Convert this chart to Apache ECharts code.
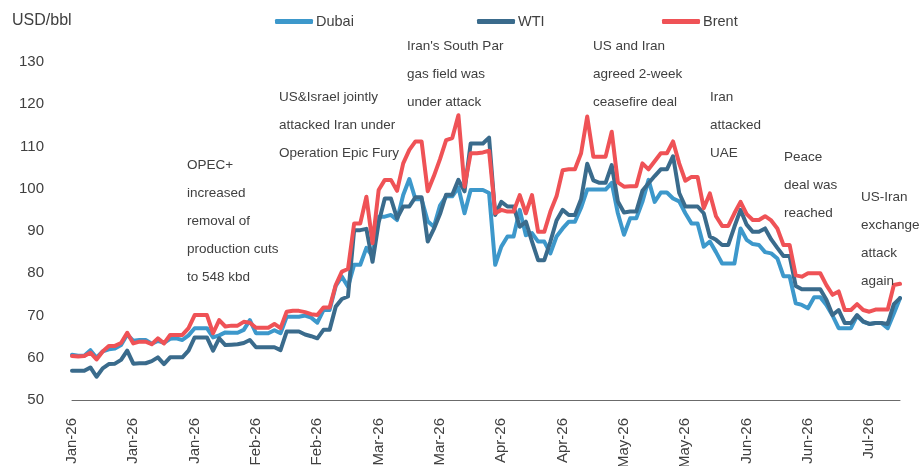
<!DOCTYPE html>
<html lang="en" style="height: 100%">
<head>
  <meta charset="utf-8">
</head>
<body style="height: 100%; margin: 0">
  <div id="container" style="width: 921px; height: 466px"></div>

  <script type="text/javascript" src="https://fastly.jsdelivr.net/npm/echarts@6/dist/echarts.min.js"></script>
  <script type="text/javascript">
    // daily prices, business days from 2 Jan 2026
    const dubai = [
      60.7, 60.5, 60.5, 61.8, 60.0, 61.5, 62.0, 62.2, 63.0, 65.5,
      64.0, 64.2, 64.2, 63.3, 64.0, 63.5, 64.5, 64.6, 64.2, 65.3,
      67.0, 67.0, 67.0, 64.8, 65.3, 66.0, 65.9, 65.9, 66.6, 68.9,
      65.8, 65.8, 65.8, 66.5, 65.8, 69.7, 69.7, 69.7, 70.0, 69.5,
      68.3, 71.3, 71.3, 77.0, 79.2, 76.8, 82.0, 82.0, 86.0, 84.0,
      93.4, 93.4, 93.8, 92.6, 98.5, 102.3, 97.5, 97.5, 92.3, 91.0,
      96.0, 98.2, 98.2, 100.3, 94.2, 99.7, 99.7, 99.7, 99.0, 82.0,
      86.3, 88.7, 88.7, 95.0, 89.0, 89.5, 87.5, 87.5, 84.7, 88.7,
      90.6, 92.2, 92.2, 95.5, 99.8, 99.8, 99.8, 99.8, 101.4, 94.2,
      89.1, 93.0, 93.0, 96.9, 102.1, 96.9, 99.1, 99.1, 97.7, 97.0,
      94.2, 91.8, 91.8, 86.3, 87.5, 85.0, 82.3, 82.3, 82.3, 90.6,
      87.9, 86.9, 86.7, 85.0, 84.7, 83.5, 79.3, 79.3, 72.9, 72.5,
      71.7, 74.3, 74.3, 72.5, 70.0, 67.0, 67.0, 67.0, 69.9, 68.5,
      68.0, 68.2, 68.2, 67.0, 70.5, 74.1
    ];
    const wti = [
      56.9, 56.9, 56.9, 57.7, 55.5, 57.5, 58.5, 58.6, 59.5, 61.7,
      58.6, 58.7, 58.7, 59.2, 60.1, 58.5, 60.1, 60.1, 60.1, 61.7,
      64.8, 64.8, 64.8, 61.7, 64.6, 63.0, 63.1, 63.2, 63.5, 64.2,
      62.5, 62.5, 62.5, 62.5, 61.8, 66.2, 66.2, 66.2, 65.5, 65.1,
      64.6, 66.6, 66.6, 72.1, 73.9, 74.5, 90.2, 90.2, 90.5, 82.7,
      92.0, 97.7, 97.7, 93.0, 95.8, 95.8, 98.0, 98.0, 87.5, 90.5,
      94.0, 98.6, 98.6, 102.1, 99.4, 110.7, 110.7, 110.7, 112.1, 93.8,
      96.9, 95.8, 95.8, 91.0, 92.2, 87.5, 83.1, 83.1, 87.5, 92.5,
      95.0, 93.8, 93.8, 97.5, 105.9, 102.0, 101.4, 101.4, 105.6, 97.0,
      94.4, 94.6, 94.6, 99.5, 101.3, 103.0, 104.6, 104.6, 107.7, 99.0,
      95.8, 95.8, 95.8, 94.2, 88.7, 87.9, 86.7, 86.7, 91.0, 95.0,
      91.5, 89.8, 89.8, 90.6, 88.0, 86.0, 84.1, 84.1, 77.0, 76.2,
      76.2, 76.2, 76.2, 73.7, 70.1, 71.3, 68.2, 68.2, 70.1, 68.6,
      68.0, 68.2, 68.2, 68.0, 72.7, 74.1
    ];
    const brent = [
      60.4, 60.3, 60.4, 61.2, 59.6, 61.5, 62.8, 62.8, 63.5, 65.9,
      63.4, 63.8, 63.8, 63.2, 64.6, 63.4, 65.4, 65.4, 65.4, 67.0,
      70.1, 70.1, 70.1, 65.8, 68.9, 67.4, 67.6, 67.6, 68.5, 68.3,
      67.1, 67.1, 67.1, 68.0, 67.0, 70.9, 71.1, 71.1, 70.8, 70.3,
      70.1, 71.9, 71.9, 77.2, 80.4, 81.0, 91.8, 91.8, 98.1, 87.1,
      99.7, 102.1, 102.1, 99.5, 106.0, 109.2, 111.2, 111.2, 99.4, 103.0,
      107.0, 111.5, 112.0, 117.4, 100.5, 108.4, 108.4, 108.6, 109.0, 94.2,
      95.0, 94.6, 94.6, 98.5, 94.2, 98.5, 89.8, 89.8, 94.6, 98.2,
      104.4, 104.6, 104.6, 108.4, 117.1, 107.6, 107.6, 107.6, 113.5, 101.5,
      100.5, 100.6, 100.6, 106.0, 104.6, 106.5, 108.4, 108.4, 111.2, 106.0,
      101.9, 102.8, 102.8, 95.4, 98.9, 93.5, 91.2, 91.2, 94.2, 96.9,
      94.0, 92.6, 92.6, 93.5, 92.5, 90.6, 86.7, 86.7, 79.5, 79.2,
      80.0, 80.0, 80.0, 77.2, 74.9, 75.7, 71.3, 71.3, 72.7, 71.3,
      70.9, 71.4, 71.4, 71.4, 77.2, 77.5
    ];

    const monthNames = ['Jan', 'Feb', 'Mar', 'Apr', 'May', 'Jun', 'Jul', 'Aug', 'Sep', 'Oct', 'Nov', 'Dec'];
    // trading days (Mon-Fri) starting 2 Jan 2026, labelled like "Jan-26"
    const categories = [];
    let d = new Date(Date.UTC(2026, 0, 2));
    while (categories.length < brent.length) {
      const wd = d.getUTCDay();
      if (wd !== 0 && wd !== 6) {
        categories.push(monthNames[d.getUTCMonth()] + '-' + String(d.getUTCFullYear()).slice(2));
      }
      d.setUTCDate(d.getUTCDate() + 1);
    }

    const notes = [
      { text: 'OPEC+\nincreased\nremoval of\nproduction cuts\nto 548 kbd', left: 187, top: 151 },
      { text: 'US&Israel jointly\nattacked Iran under\nOperation Epic Fury', left: 279, top: 83 },
      { text: "Iran's South Par\ngas field was\nunder attack", left: 407, top: 32 },
      { text: 'US and Iran\nagreed 2-week\nceasefire deal', left: 593, top: 32 },
      { text: 'Iran\nattacked\nUAE', left: 710, top: 83 },
      { text: 'Peace\ndeal was\nreached', left: 784, top: 143 },
      { text: 'US-Iran\nexchange\nattack\nagain', left: 861, top: 183 }
    ];

    const FONT = 'Liberation Sans, Arial, sans-serif';
    const TXT = '#404040';

    var dom = document.getElementById('container');
    var myChart = echarts.init(dom, null, { renderer: 'canvas' });

    function legendAt(name, left) {
      return {
        data: [name],
        left: left,
        top: 14,
        padding: 0,
        icon: 'roundRect',
        itemWidth: 38,
        itemHeight: 5,
        textStyle: { fontFamily: FONT, fontSize: 14.5, color: TXT, padding: [0, 0, 0, -2] }
      };
    }

    var option = {
      animation: false,
      backgroundColor: '#ffffff',
      title: {
        text: 'USD/bbl',
        left: 12,
        top: 13,
        padding: 0,
        textStyle: { fontFamily: FONT, fontSize: 16, fontWeight: 'normal', color: TXT }
      },
      legend: [legendAt('Dubai', 275), legendAt('WTI', 477), legendAt('Brent', 662)],
      grid: { left: 72, right: 21, top: 62, bottom: 66, outerBoundsMode: 'none', containLabel: false },
      xAxis: {
        type: 'category',
        data: categories,
        boundaryGap: false,
        axisLine: { lineStyle: { color: '#6b6b6b', width: 1 } },
        axisTick: { show: false },
        axisLabel: {
          interval: 9,
          rotate: 90,
          margin: 18,
          fontFamily: FONT,
          fontSize: 15,
          color: TXT
        }
      },
      yAxis: {
        type: 'value',
        min: 50,
        max: 130,
        interval: 10,
        axisLine: { show: false },
        axisTick: { show: false },
        splitLine: { show: false },
        axisLabel: { margin: 28, fontFamily: FONT, fontSize: 15, color: TXT }
      },
      graphic: notes.map(function (n) {
        return {
          type: 'text',
          left: n.left,
          top: n.top,
          z: 100,
          style: {
            text: n.text,
            fill: TXT,
            font: '13.5px ' + FONT,
            lineHeight: 28
          }
        };
      }),
      series: [
        { name: 'Dubai', data: dubai, color: '#3d98cb' },
        { name: 'WTI', data: wti, color: '#3a6b8c' },
        { name: 'Brent', data: brent, color: '#ef5256' }
      ].map(function (s) {
        return {
          type: 'line',
          name: s.name,
          data: s.data,
          symbol: 'none',
          itemStyle: { color: s.color },
          lineStyle: { color: s.color, width: 4, cap: 'round', join: 'round' }
        };
      })
    };

    myChart.setOption(option);
    window.addEventListener('resize', myChart.resize);
  </script>
</body>
</html>
